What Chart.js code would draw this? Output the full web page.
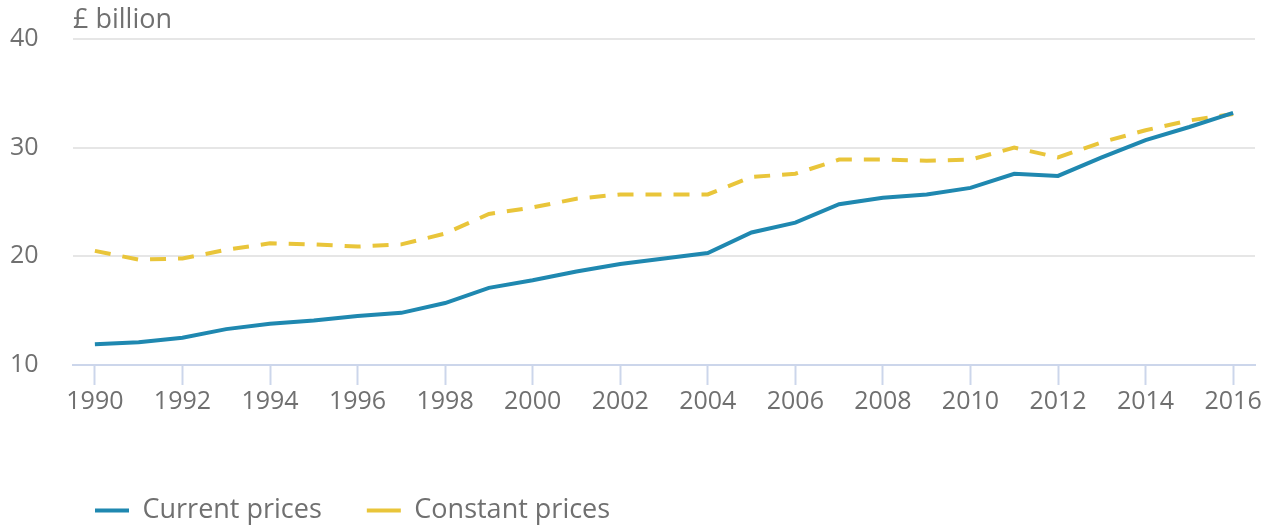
<!DOCTYPE html>
<html>
<head>
<meta charset="utf-8">
<script src="https://cdn.jsdelivr.net/npm/chart.js@4"></script>
<style>
  html, body { margin: 0; padding: 0; background: #fff; }
  #wrap { width: 1272px; height: 527px; }
</style>
</head>
<body>
<div id="wrap"><canvas id="priceChart"></canvas></div>
<script>
const years = ['1990', '1991', '1992', '1993', '1994', '1995', '1996', '1997', '1998', '1999',
  '2000', '2001', '2002', '2003', '2004', '2005', '2006', '2007', '2008', '2009',
  '2010', '2011', '2012', '2013', '2014', '2015', '2016'];
const currentPrices = [11.9, 12.1, 12.5, 13.3, 13.8, 14.1, 14.5, 14.8, 15.7, 17.1,
  17.8, 18.6, 19.3, 19.8, 20.3, 22.2, 23.1, 24.8, 25.4, 25.7,
  26.3, 27.6, 27.4, 29.1, 30.7, 31.9, 33.2];
const constantPrices = [20.5, 19.7, 19.8, 20.6, 21.2, 21.1, 20.9, 21.1, 22.1, 23.9,
  24.5, 25.3, 25.7, 25.7, 25.7, 27.3, 27.6, 28.9, 28.9, 28.8,
  28.9, 30.0, 29.1, 30.5, 31.6, 32.5, 33.1];
const yTicks = [10, 20, 30, 40];
const unitLabel = '£ billion';

const textColor = '#707070';
const axisColor = '#ccd6eb';
const gridColor = '#e6e6e6';

// draws the unit label above the plot, lined up with the plot's left edge
const unitLabelPlugin = {
  id: 'unitLabel',
  afterDraw(chart) {
    const { ctx, chartArea } = chart;
    ctx.save();
    ctx.font = '27px "Open Sans"';
    ctx.fillStyle = textColor;
    ctx.textBaseline = 'middle';
    ctx.fillText(unitLabel, chartArea.left, 20);
    ctx.restore();
  }
};

// nudge the legend so it starts just inside the plot area
const legendShift = {
  id: 'legendShift',
  afterLayout(chart) {
    const lg = chart.legend;
    const dx = chart.chartArea.left + 22 - (lg.left + 45);
    lg.left += dx;
    lg.right += dx;
    lg.top += 7;
    lg.bottom += 7;
  }
};

const ctx = document.getElementById('priceChart').getContext('2d');
new Chart(ctx, {
  type: 'line',
  data: {
    labels: years,
    datasets: [
      {
        label: 'Current prices',
        data: currentPrices,
        borderColor: '#1f88b0',
        backgroundColor: '#1f88b0',
        borderWidth: 4,
        pointRadius: 0,
        tension: 0
      },
      {
        label: 'Constant prices',
        data: constantPrices,
        borderColor: '#e9c53a',
        backgroundColor: '#e9c53a',
        borderWidth: 4,
        borderDash: [16, 12],
        pointRadius: 0,
        tension: 0
      }
    ]
  },
  options: {
    responsive: true,
    maintainAspectRatio: false,
    animation: false,
    layout: {
      padding: { top: 39, right: 17, bottom: 0, left: 10 }
    },
    scales: {
      x: {
        type: 'category',
        offset: true,
        border: { color: axisColor, width: 2 },
        grid: {
          offset: false,
          drawOnChartArea: false,
          drawTicks: true,
          tickLength: 20,
          tickWidth: 2,
          tickColor: (c) => (c.index % 2 === 0 ? axisColor : 'rgba(0,0,0,0)')
        },
        ticks: {
          autoSkip: false,
          maxRotation: 0,
          padding: 2,
          color: textColor,
          font: { family: 'Open Sans', size: 25 },
          callback: function (value, index) {
            return index % 2 === 0 ? this.getLabelForValue(value) : '';
          }
        },
        afterFit: (scale) => { scale.height = 80; }
      },
      y: {
        min: 10,
        max: 40,
        border: { display: false },
        afterBuildTicks: (scale) => { scale.ticks = yTicks.map(v => ({ value: v })); },
        grid: {
          drawTicks: false,
          lineWidth: 2,
          color: (c) => (c.tick && c.tick.value === 10 ? 'rgba(0,0,0,0)' : gridColor)
        },
        ticks: {
          crossAlign: 'far',
          padding: 0,
          color: textColor,
          font: { family: 'Open Sans', size: 25 }
        },
        afterFit: (scale) => { scale.width = 63; }
      }
    },
    plugins: {
      legend: {
        position: 'bottom',
        align: 'start',
        labels: {
          usePointStyle: true,
          pointStyle: 'line',
          pointStyleWidth: 34,
          boxHeight: 4,
          padding: 45,
          color: textColor,
          font: { family: 'Open Sans', size: 27 }
        }
      },
      tooltip: { enabled: false }
    }
  },
  plugins: [unitLabelPlugin, legendShift]
});
</script>
</body>
</html>
